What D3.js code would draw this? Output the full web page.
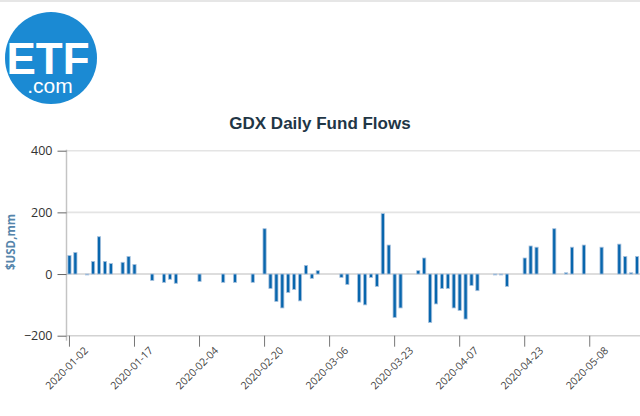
<!DOCTYPE html>
<html>
<head>
<meta charset="utf-8">
<script src="https://cdn.jsdelivr.net/npm/d3@7"></script>
<style>
  html, body { margin: 0; padding: 0; background: #fff; }
  svg { display: block; font-family: "Open Sans", sans-serif; }
</style>
</head>
<body>
<div id="chart"></div>
<script>
// trading days shown on the x axis
const dates = [
  '2020-01-02','2020-01-03','2020-01-06','2020-01-07','2020-01-08','2020-01-09','2020-01-10',
  '2020-01-13','2020-01-14','2020-01-15','2020-01-16','2020-01-17','2020-01-21','2020-01-22',
  '2020-01-23','2020-01-24','2020-01-27','2020-01-28','2020-01-29','2020-01-30','2020-01-31',
  '2020-02-03','2020-02-04','2020-02-05','2020-02-06','2020-02-07','2020-02-10','2020-02-11',
  '2020-02-12','2020-02-13','2020-02-14','2020-02-18','2020-02-19','2020-02-20','2020-02-21',
  '2020-02-24','2020-02-25','2020-02-26','2020-02-27','2020-02-28','2020-03-02','2020-03-03',
  '2020-03-04','2020-03-05','2020-03-06','2020-03-09','2020-03-10','2020-03-11','2020-03-12',
  '2020-03-13','2020-03-16','2020-03-17','2020-03-18','2020-03-19','2020-03-20','2020-03-23',
  '2020-03-24','2020-03-25','2020-03-26','2020-03-27','2020-03-30','2020-03-31','2020-04-01',
  '2020-04-02','2020-04-03','2020-04-06','2020-04-07','2020-04-08','2020-04-09','2020-04-13',
  '2020-04-14','2020-04-15','2020-04-16','2020-04-17','2020-04-20','2020-04-21','2020-04-22',
  '2020-04-23','2020-04-24','2020-04-27','2020-04-28','2020-04-29','2020-04-30','2020-05-01',
  '2020-05-04','2020-05-05','2020-05-06','2020-05-07','2020-05-08','2020-05-11','2020-05-12',
  '2020-05-13','2020-05-14','2020-05-15','2020-05-18','2020-05-19','2020-05-20'
];

// daily flows, $USD mm
const flows = [
   60,  70,   0,  -3,  41, 121,  41,  34,   0,  38,  57,  31,   0,   0, -21,   0,
  -27, -17, -30,   0,   0,   0, -24,   0,   0,   0, -27,   0, -27,   0,   0, -27,
    0, 147, -47, -89,-110, -60, -50, -87,  28, -14,  11,   0,   0,   0, -11, -34,
    0, -91,-100, -11, -40, 196,  94,-141,-110,   0,   0,  11,  52,-157, -97, -47,
  -47,-110,-118,-146, -37, -54,   0,   0,  -3,  -3, -40,   0,   0,  52,  91,  87,
    0,   0, 147,   0,   4,  87,   0,  94,   0,   0,  87,   0,   0,  97,  57,   4,
   57
];

const tickDates = ['2020-01-02','2020-01-17','2020-02-04','2020-02-20','2020-03-06',
  '2020-03-23','2020-04-07','2020-04-23','2020-05-08'];
const yTicks = [-200, 0, 200, 400];

const width = 640, height = 416;
const plot = { left: 66.5, right: 640, top: 150.7, bottom: 335.7 };

const svg = d3.select('#chart').append('svg')
  .attr('width', width)
  .attr('height', height);

// thin top border
svg.append('rect')
  .attr('x', 0).attr('y', 0)
  .attr('width', width).attr('height', 2)
  .attr('fill', '#e6e6e6');

// logo
const logo = svg.append('g');
logo.append('circle')
  .attr('cx', 51).attr('cy', 58).attr('r', 46)
  .attr('fill', '#1b8ad3');
logo.append('text')
  .attr('x', 48).attr('y', 74)
  .attr('text-anchor', 'middle')
  .attr('font-family', '"Liberation Sans", Arial, sans-serif')
  .attr('font-weight', 'bold')
  .attr('font-size', 44)
  .attr('fill', '#fff')
  .text('ETF');
logo.append('text')
  .attr('x', 50).attr('y', 93)
  .attr('text-anchor', 'middle')
  .attr('font-family', '"Liberation Sans", Arial, sans-serif')
  .attr('font-size', 21)
  .attr('fill', '#fff')
  .text('.com');

// title
svg.append('text')
  .attr('x', 320).attr('y', 129)
  .attr('text-anchor', 'middle')
  .attr('font-family', '"Liberation Sans", Arial, sans-serif')
  .attr('font-weight', 'bold')
  .attr('font-size', 17)
  .attr('fill', '#1f3646')
  .text('GDX Daily Fund Flows');

const x = d3.scaleBand()
  .domain(dates)
  .range([plot.left, plot.right])
  .paddingInner(0.46)
  .paddingOuter(0.23);

const y = d3.scaleLinear()
  .domain([-200, 400])
  .range([plot.bottom, plot.top]);

// gridlines
svg.append('g')
  .selectAll('line')
  .data(yTicks)
  .join('line')
  .attr('x1', plot.left)
  .attr('x2', plot.right)
  .attr('y1', d => y(d))
  .attr('y2', d => y(d))
  .attr('stroke', d => (d === 0 || d === -200) ? '#d2d2d2' : '#e4e4e4')
  .attr('stroke-width', 1.6);

// y axis
const yAxis = svg.append('g')
  .attr('transform', `translate(${plot.left},0)`)
  .call(d3.axisLeft(y).tickValues(yTicks).tickSize(9).tickPadding(5));
yAxis.select('.domain')
  .attr('d', `M0,${plot.top - 1}V${plot.bottom + 5}`)
  .attr('stroke', '#c4c4c4')
  .attr('stroke-width', 1.5);
yAxis.selectAll('.tick line').attr('stroke', '#666');
yAxis.selectAll('.tick text')
  .attr('font-family', '"Open Sans", sans-serif')
  .attr('font-size', 12.5)
  .attr('fill', '#333');

svg.append('text')
  .attr('transform', `translate(15,242) rotate(-90)`)
  .attr('text-anchor', 'middle')
  .attr('font-family', '"Open Sans", sans-serif')
  .attr('font-weight', 'bold')
  .attr('font-size', 11.5)
  .attr('fill', '#5585ab')
  .text('$USD,mm');

// x axis
const xAxis = svg.append('g')
  .attr('transform', `translate(0,${plot.bottom})`)
  .call(d3.axisBottom(x).tickValues(tickDates).tickSize(11).tickSizeOuter(0));
xAxis.select('.domain').remove();
xAxis.selectAll('.tick line').attr('stroke', '#777');
xAxis.selectAll('.tick text')
  .attr('font-family', '"Open Sans", sans-serif')
  .attr('font-size', 10.5)
  .attr('fill', '#444')
  .attr('text-anchor', 'middle')
  .attr('dy', null)
  .attr('y', 35)
  .attr('transform', 'rotate(-45, 0, 35)');

// bars
svg.append('g')
  .selectAll('rect')
  .data(flows.map((v, i) => ({ date: dates[i], value: v })).filter(d => d.value !== 0))
  .join('rect')
  .attr('x', d => x(d.date))
  .attr('width', x.bandwidth())
  .attr('y', d => y(Math.max(0, d.value)))
  .attr('height', d => Math.abs(y(d.value) - y(0)))
  .attr('fill', '#0866ad')
  .attr('stroke', '#a9c2de')
  .attr('stroke-width', 0.8);
</script>
</body>
</html>
